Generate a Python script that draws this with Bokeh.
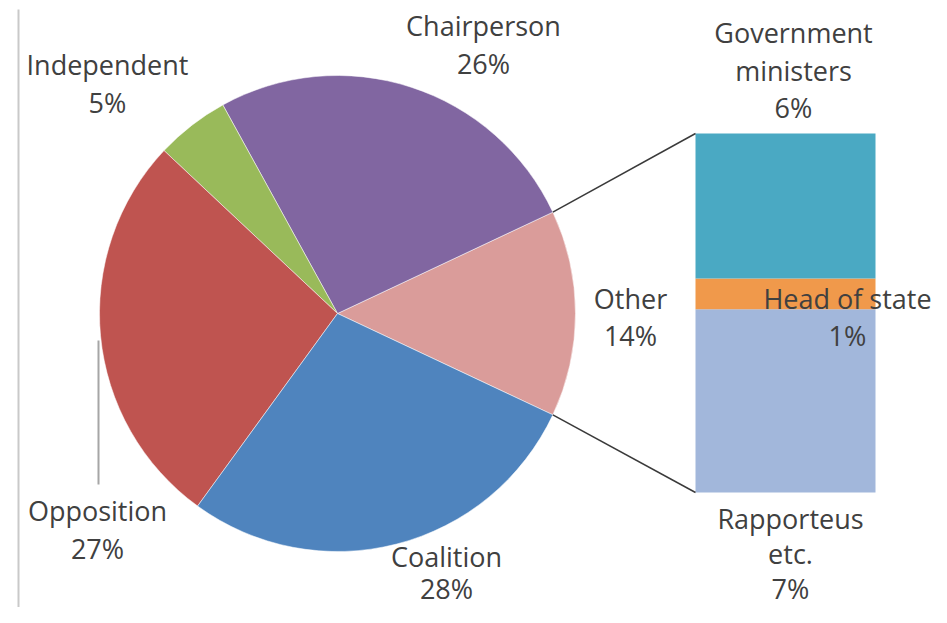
import math
from bokeh.plotting import figure
from bokeh.models import Range1d, ColumnDataSource
from bokeh.core.properties import value
from bokeh.embed import file_html
from bokeh.resources import INLINE

# ---- data ----
pie_names = ["Other", "Chairperson", "Independent", "Opposition", "Coalition"]
pie_values = [None, 26, 5, 27, 28]          # "Other" is the sum of the bar values
pie_colors = ["#DA9C9A", "#8166A1", "#99BA5A", "#BF5450", "#4F84BE"]

bar_names = ["Rapporteus etc.", "Head of state", "Government ministers"]
bar_values = [7.15, 1.2, 5.65]
bar_colors = ["#A2B7DB", "#F0994B", "#4AA9C3"]

pie_label_text = ["Other", "Chairperson", "Independent", "Opposition", "Coalition"]
bar_label_text = ["Rapporteus\netc.", "Head of state", "Government\nministers"]

# ---- layout (pixel positions, top-left origin) ----
W, H = 931, 607
def Y(img_y):
    return H - img_y

CX, CY, R = 337, Y(313), 238
BAR_L, BAR_R, BAR_TOP, BAR_BOT = 695, 875, Y(133), Y(492)

pie_label_pos = [(630, 316.5), (483, 44), (107, 83), (97, 529), (446, 572)]
bar_label_pos = [(790, 553), (847, 316.5), (793, 69.5)]
LINE_SP = 37.5
FONT = "Open Sans"
FSIZE = "27px"
TCOLOR = "#404040"

other_total = sum(bar_values)
vals = [other_total] + pie_values[1:]
total = sum(vals)

p = figure(width=W, height=H, output_backend="svg", toolbar_location=None,
           x_range=Range1d(0, W), y_range=Range1d(0, H),
           min_border=0, background_fill_color="white", border_fill_color="white")
p.axis.visible = False
p.grid.visible = False
p.outline_line_color = None

# left border line
p.segment(x0=[18], y0=[Y(9)], x1=[18], y1=[Y(607)], line_color="#c9c9c9", line_width=2)

# pie wedges
start = -math.pi * (other_total / total)
starts, ends = [], []
a = start
for v in vals:
    starts.append(a)
    a += 2 * math.pi * v / total
    ends.append(a)
src = ColumnDataSource(dict(x=[CX] * len(vals), y=[CY] * len(vals),
                            s=starts, e=ends, c=pie_colors))
p.wedge(x="x", y="y", radius=R, start_angle="s", end_angle="e",
        fill_color="c", line_color="white", line_width=1, line_alpha=0.5, source=src)

# bar of "Other"
scale = (BAR_TOP - BAR_BOT) / other_total
bots, tops = [], []
b = BAR_BOT
for v in bar_values:
    bots.append(b)
    b += v * scale
    tops.append(b)
p.quad(left=[BAR_L] * 3, right=[BAR_R] * 3, bottom=bots, top=tops,
       fill_color=bar_colors, line_color=None)

# connector lines
half = math.pi * other_total / total
p.segment(x0=[CX + R * math.cos(half), CX + R * math.cos(-half)],
          y0=[CY + R * math.sin(half), CY + R * math.sin(-half)],
          x1=[BAR_L, BAR_L], y1=[BAR_TOP, BAR_BOT],
          line_color="#3a3a3a", line_width=1.5)

# leader line for Opposition
p.segment(x0=[98], y0=[Y(340)], x1=[98], y1=[Y(484)], line_color="#a6a6a6", line_width=2)

# labels
lx, ly, lt = [], [], []
def add_label(text, pos, sp=LINE_SP):
    lines = text.split("\n")
    n = len(lines)
    for i, ln in enumerate(lines):
        lx.append(pos[0])
        ly.append(Y(pos[1] + (i - (n - 1) / 2) * sp))
        lt.append(ln)

for name, v, pos in zip(pie_label_text, vals, pie_label_pos):
    add_label(f"{name}\n{round(v)}%", pos, 32 if name == "Coalition" else LINE_SP)
for name, v, pos in zip(bar_label_text, bar_values, bar_label_pos):
    add_label(f"{name}\n{round(v)}%", pos, 35 if name.startswith("Rapp") else LINE_SP)

p.text(x=lx, y=ly, text=lt, text_font=value(FONT), text_font_size=FSIZE,
       text_color=TCOLOR, text_align="center", text_baseline="middle")

open("out.html", "w").write(file_html(p, INLINE))
